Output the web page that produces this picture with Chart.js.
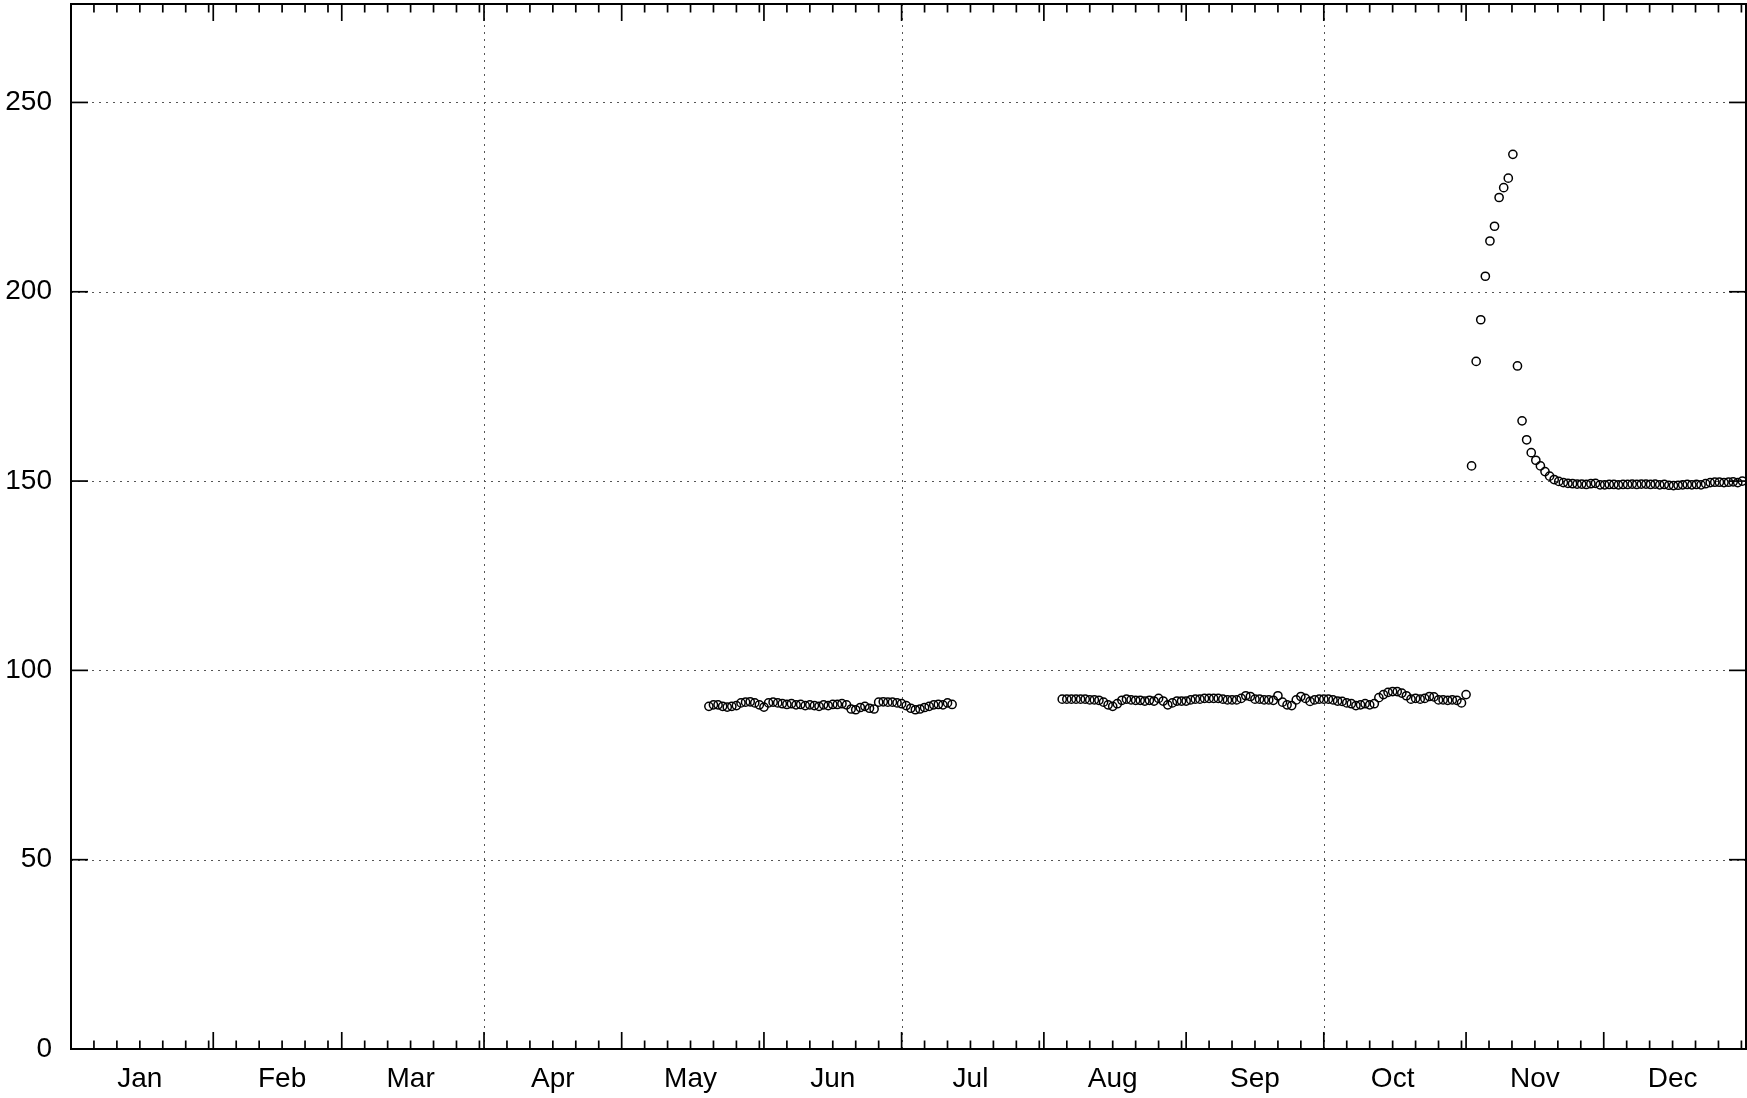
<!DOCTYPE html>
<html>
<head>
<meta charset="utf-8">
<script src="https://cdn.jsdelivr.net/npm/chart.js@4/dist/chart.umd.min.js"></script>
<style>
  html, body { margin: 0; padding: 0; background: #fff; }
  canvas { display: block; }
</style>
</head>
<body>
<canvas id="grafico" width="1747" height="1098"></canvas>
<script>
const monthLabels = ["Jan", "Feb", "Mar", "Apr", "May", "Jun", "Jul", "Aug", "Sep", "Oct", "Nov", "Dec"];
const monthStarts = [0, 31, 59, 90, 120, 151, 181, 212, 243, 273, 304, 334, 365];
const gridDays = [90, 181, 273];
const yTicks = [0, 50, 100, 150, 200, 250];

// daily values, first day of each run (day of year, Jan 1 = 0)
const run1Start = 139;
const run1Values = [
  90.5, 90.9, 90.9, 90.5, 90.3, 90.5, 90.7, 91.4, 91.6, 91.7,
  91.4, 90.9, 90.3, 91.4, 91.6, 91.4, 91.2, 91.0, 91.2, 90.9,
  91.0, 90.7, 90.9, 90.7, 90.5, 90.9, 90.7, 91.0, 91.0, 91.2,
  90.9, 89.8, 89.6, 90.2, 90.5, 90.0, 89.8, 91.6, 91.7, 91.6,
  91.6, 91.4, 91.2, 90.7, 90.0, 89.6, 89.8, 90.2, 90.5, 90.9,
  91.0, 90.9, 91.4, 91.0
];

const run2Start = 216;
const run2Values = [
  92.4, 92.4, 92.4, 92.4, 92.4, 92.4, 92.2, 92.2, 92.1, 91.6,
  90.9, 90.5, 91.2, 92.1, 92.4, 92.2, 92.1, 92.1, 91.9, 92.1,
  91.9, 92.6, 91.9, 90.9, 91.4, 91.9, 91.9, 91.9, 92.2, 92.4,
  92.4, 92.6, 92.6, 92.6, 92.6, 92.4, 92.2, 92.2, 92.2, 92.6,
  93.3, 93.1, 92.4, 92.4, 92.2, 92.2, 92.1, 93.3, 91.6, 90.9,
  90.7, 92.2, 93.1, 92.6, 91.8, 92.2, 92.4, 92.4, 92.4, 92.2,
  91.9, 91.8, 91.4, 91.2, 90.7, 90.9, 91.2, 90.9, 91.2, 92.8,
  93.6, 94.2, 94.4, 94.4, 94.0, 93.3, 92.4, 92.6, 92.4, 92.6,
  93.1, 93.0, 92.2, 92.2, 92.1, 92.2, 92.1, 91.4, 93.6
];

const run3Start = 305.2;
const run3Values = [
  154.0, 181.6, 192.6, 204.1, 213.4, 217.3, 224.9, 227.5, 230.0, 236.3,
  180.4, 165.9, 160.9, 157.5, 155.5, 154.0, 152.5, 151.3, 150.4, 149.9,
  149.6, 149.4, 149.3, 149.2, 149.2, 149.1, 149.3, 149.4, 149.0, 149.0,
  149.1, 149.1, 149.0, 149.1, 149.1, 149.2, 149.1, 149.2, 149.2, 149.1,
  149.2, 149.0, 149.1, 148.9, 148.8, 148.9, 149.0, 149.1, 149.0, 149.1,
  149.0, 149.3, 149.6, 149.7, 149.7, 149.6, 149.7, 149.8, 149.6, 150.0
];

function aPuntos(inicio, valores) {
  return valores.map((v, i) => ({ x: inicio + i, y: v }));
}

const puntos = [
  ...aPuntos(run1Start, run1Values),
  ...aPuntos(run2Start, run2Values),
  ...aPuntos(run3Start, run3Values)
];

const fuente = { family: "'Liberation Sans', Arial, sans-serif", size: 28 };

// gnuplot-like frame: dotted grid, border, inward ticks on all four sides
const marco = {
  id: "marco",
  beforeDatasetsDraw(chart) {
    const { ctx, chartArea: a, scales: { x, y } } = chart;
    ctx.save();
    ctx.strokeStyle = "#555";
    ctx.lineWidth = 1;
    ctx.setLineDash([2, 5]);
    yTicks.forEach((v) => {
      if (v === 0) return;
      const py = Math.round(y.getPixelForValue(v)) + 0.5;
      ctx.beginPath();
      ctx.moveTo(a.left, py);
      ctx.lineTo(a.right, py);
      ctx.stroke();
    });
    gridDays.forEach((d) => {
      const px = Math.round(x.getPixelForValue(d)) + 0.5;
      ctx.beginPath();
      ctx.moveTo(px, a.top);
      ctx.lineTo(px, a.bottom);
      ctx.stroke();
    });
    ctx.restore();
  },
  afterDatasetsDraw(chart) {
    const { ctx, chartArea: a, scales: { x, y } } = chart;
    ctx.save();
    ctx.strokeStyle = "#000";
    ctx.setLineDash([]);

    ctx.lineWidth = 1.7;
    const linea = (x1, y1, x2, y2) => {
      ctx.beginPath();
      ctx.moveTo(x1, y1);
      ctx.lineTo(x2, y2);
      ctx.stroke();
    };

    for (let m = 0; m < 12; m++) {
      const inicio = monthStarts[m];
      const largo = monthStarts[m + 1] - inicio;
      const px = x.getPixelForValue(inicio);
      linea(px, a.bottom, px, a.bottom - 17);
      linea(px, a.top, px, a.top + 17);
      for (let d = 5; d < largo; d += 5) {
        const pm = x.getPixelForValue(inicio + d);
        linea(pm, a.bottom, pm, a.bottom - 8.5);
        linea(pm, a.top, pm, a.top + 8.5);
      }
    }

    yTicks.forEach((v) => {
      const py = y.getPixelForValue(v);
      linea(a.left, py, a.left + 17, py);
      linea(a.right, py, a.right - 17, py);
    });

    ctx.lineWidth = 2;
    ctx.strokeRect(a.left, a.top, a.right - a.left, a.bottom - a.top);
    ctx.restore();
  }
};

new Chart(document.getElementById("grafico"), {
  type: "scatter",
  data: {
    datasets: [
      {
        data: puntos,
        pointStyle: "circle",
        pointRadius: 4.1,
        pointBorderWidth: 1.5,
        borderColor: "#000",
        backgroundColor: "rgba(0,0,0,0)",
        showLine: false
      }
    ]
  },
  options: {
    responsive: false,
    devicePixelRatio: 1,
    animation: false,
    events: [],
    layout: { autoPadding: false, padding: { top: 4, right: 1, bottom: 0, left: 0 } },
    plugins: {
      legend: { display: false },
      tooltip: { enabled: false }
    },
    scales: {
      x: {
        type: "linear",
        min: 0,
        max: 365,
        grid: { display: false, drawTicks: false },
        border: { display: false },
        afterBuildTicks: (s) => {
          s.ticks = monthStarts.slice(0, 12).map((d) => ({ value: d + 15 }));
        },
        afterFit: (s) => {
          s.height = 49;
          s.paddingLeft = 0;
          s.paddingRight = 0;
        },
        ticks: {
          autoSkip: false,
          maxRotation: 0,
          padding: 13,
          color: "#000",
          font: fuente,
          callback: (v, i) => monthLabels[i]
        }
      },
      y: {
        min: 0,
        max: 276,
        grid: { display: false, drawTicks: false },
        border: { display: false },
        afterBuildTicks: (s) => {
          s.ticks = yTicks.map((v) => ({ value: v }));
        },
        afterFit: (s) => {
          s.width = 71;
          s.paddingTop = 0;
          s.paddingBottom = 0;
        },
        ticks: {
          padding: 19,
          color: "#000",
          font: fuente
        }
      }
    }
  },
  plugins: [marco]
});
</script>
</body>
</html>
